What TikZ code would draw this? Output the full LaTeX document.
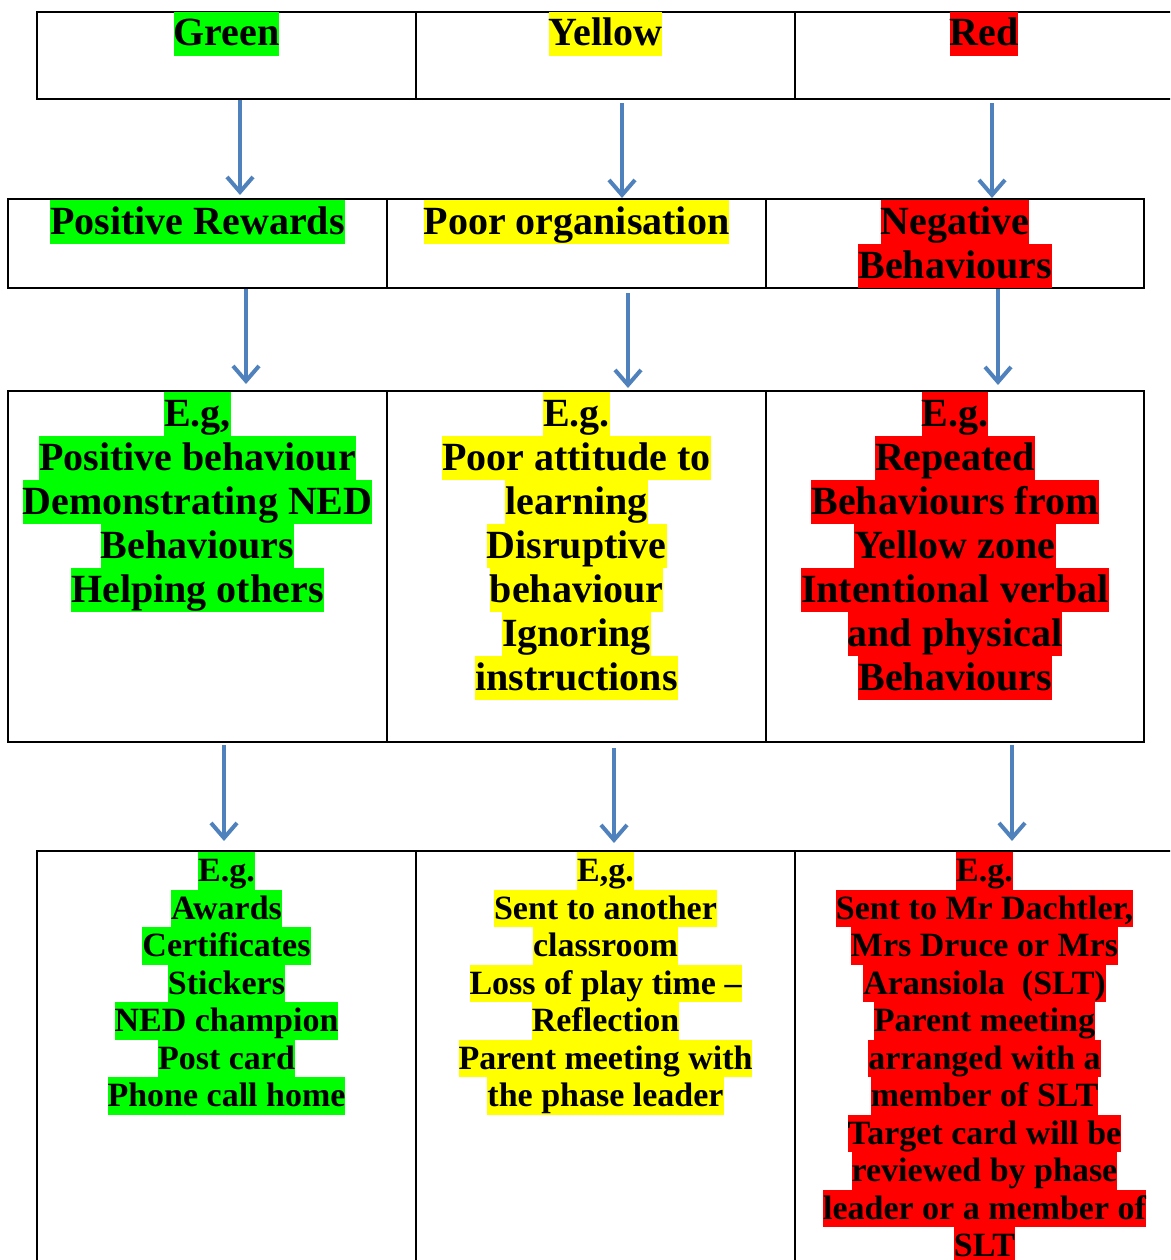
\documentclass[tikz,border=0pt]{standalone}
\usepackage{fontspec}
\setmainfont{Liberation Serif}
\usetikzlibrary{arrows.meta}
\definecolor{hlgreen}{RGB}{0,255,0}
\definecolor{hlyellow}{RGB}{255,255,0}
\definecolor{hlred}{RGB}{255,0,0}
\definecolor{arrblue}{RGB}{79,129,189}
\newcommand\hlbig[2]{{\setlength{\fboxsep}{0pt}\colorbox{#1}{\rule[-10pt]{0pt}{44pt}#2}}}
\newcommand\hlsmall[2]{{\setlength{\fboxsep}{0pt}\colorbox{#1}{\rule[-8pt]{0pt}{37.5pt}#2}}}
\newcommand\gline[1]{\hlbig{hlgreen}{#1}}
\newcommand\yline[1]{\hlbig{hlyellow}{#1}}
\newcommand\rline[1]{\hlbig{hlred}{#1}}
\newcommand\gsl[1]{\hlsmall{hlgreen}{#1}}
\newcommand\ysl[1]{\hlsmall{hlyellow}{#1}}
\newcommand\rsl[1]{\hlsmall{hlred}{#1}}
\tikzset{
  cell/.style={draw, line width=2pt, anchor=north west, inner sep=0pt, outer sep=0pt},
  bigtext/.style={anchor=north, inner sep=0pt, outer sep=0pt, align=center, font=\fontsize{40}{44}\selectfont\bfseries},
  smalltext/.style={anchor=north, inner sep=0pt, outer sep=0pt, align=center, font=\fontsize{34}{37.5}\selectfont\bfseries},
  arr/.style={draw=arrblue, line width=4pt, -{Straight Barb[length=15pt,width=26pt]}}
}
\begin{document}
\begin{tikzpicture}[x=1pt,y=-1pt]
\useasboundingbox (0,0) rectangle (1170,1260);
\clip (0,0) rectangle (1170,1260);
% row 1
\node[cell, minimum width=379pt, minimum height=87pt] (c11) at (37,12) {};
\node[cell, minimum width=379pt, minimum height=87pt] (c12) at (416,12) {};
\node[cell, minimum width=379pt, minimum height=87pt] (c13) at (795,12) {};
% row 2
\node[cell, minimum width=379pt, minimum height=89pt] (c21) at (8,199) {};
\node[cell, minimum width=379pt, minimum height=89pt] (c22) at (387,199) {};
\node[cell, minimum width=378pt, minimum height=89pt] (c23) at (766,199) {};
% row 3
\node[cell, minimum width=379pt, minimum height=351pt] (c31) at (8,391) {};
\node[cell, minimum width=379pt, minimum height=351pt] (c32) at (387,391) {};
\node[cell, minimum width=378pt, minimum height=351pt] (c33) at (766,391) {};
% row 4
\node[cell, minimum width=379pt, minimum height=500pt] (c41) at (37,851) {};
\node[cell, minimum width=379pt, minimum height=500pt] (c42) at (416,851) {};
\node[cell, minimum width=379pt, minimum height=500pt] (c43) at (795,851) {};

% texts
\node[bigtext] (t11) at (226.5,12) {\gline{Green}};
\node[bigtext] (t12) at (605.5,12) {\yline{Yellow}};
\node[bigtext] (t13) at (984,12) {\rline{Red}};

\node[bigtext] (t21) at (197.5,200) {\gline{Positive Rewards}};
\node[bigtext] (t22) at (576.5,200) {\yline{Poor organisation}};
\node[bigtext] (t23) at (955,200) {\rline{Negative}\\\rline{Behaviours}};

\node[bigtext] (t31) at (197.5,392) {\gline{E.g,}\\\gline{Positive behaviour}\\\gline{Demonstrating NED}\\\gline{Behaviours}\\\gline{Helping others}};
\node[bigtext] (t32) at (576.5,392) {\yline{E.g.}\\\yline{Poor attitude to}\\\yline{learning}\\\yline{Disruptive}\\\yline{behaviour}\\\yline{Ignoring}\\\yline{instructions}};
\node[bigtext] (t33) at (955,392) {\rline{E.g.}\\\rline{Repeated}\\\rline{Behaviours from}\\\rline{Yellow zone}\\\rline{Intentional verbal}\\\rline{and physical}\\\rline{Behaviours}};

\node[smalltext] (t41) at (226.5,852) {\gsl{E.g.}\\\gsl{Awards}\\\gsl{Certificates}\\\gsl{Stickers}\\\gsl{NED champion}\\\gsl{Post card}\\\gsl{Phone call home}};
\node[smalltext] (t42) at (605.5,852) {\ysl{E,g.}\\\ysl{Sent to another}\\\ysl{classroom}\\\ysl{Loss of play time –}\\\ysl{Reflection}\\\ysl{Parent meeting with}\\\ysl{the phase leader}};
\node[smalltext] (t43) at (984.5,852) {\rsl{E.g.}\\\rsl{Sent to Mr Dachtler,}\\\rsl{Mrs Druce or Mrs}\\\rsl{Aransiola~~(SLT)}\\\rsl{Parent meeting}\\\rsl{arranged with a}\\\rsl{member of SLT}\\\rsl{Target card will be}\\\rsl{reviewed by phase}\\\rsl{leader or a member of}\\\rsl{SLT}};

% arrow end points
\coordinate (a1s) at (240,100);  \coordinate (a1e) at (240,195);
\coordinate (a2s) at (622,103);  \coordinate (a2e) at (622,198);
\coordinate (a3s) at (992,103);  \coordinate (a3e) at (992,198);
\coordinate (b1s) at (246,289);  \coordinate (b1e) at (246,384);
\coordinate (b2s) at (628,293);  \coordinate (b2e) at (628,388);
\coordinate (b3s) at (998,289);  \coordinate (b3e) at (998,385);
\coordinate (d1s) at (224,745);  \coordinate (d1e) at (224,841);
\coordinate (d2s) at (614,748);  \coordinate (d2e) at (614,843);
\coordinate (d3s) at (1012,745); \coordinate (d3e) at (1012,841);
\foreach \p in {a1,a2,a3,b1,b2,b3,d1,d2,d3}
  \draw[arr] (\p s) -- (\p e);
\end{tikzpicture}
\end{document}
